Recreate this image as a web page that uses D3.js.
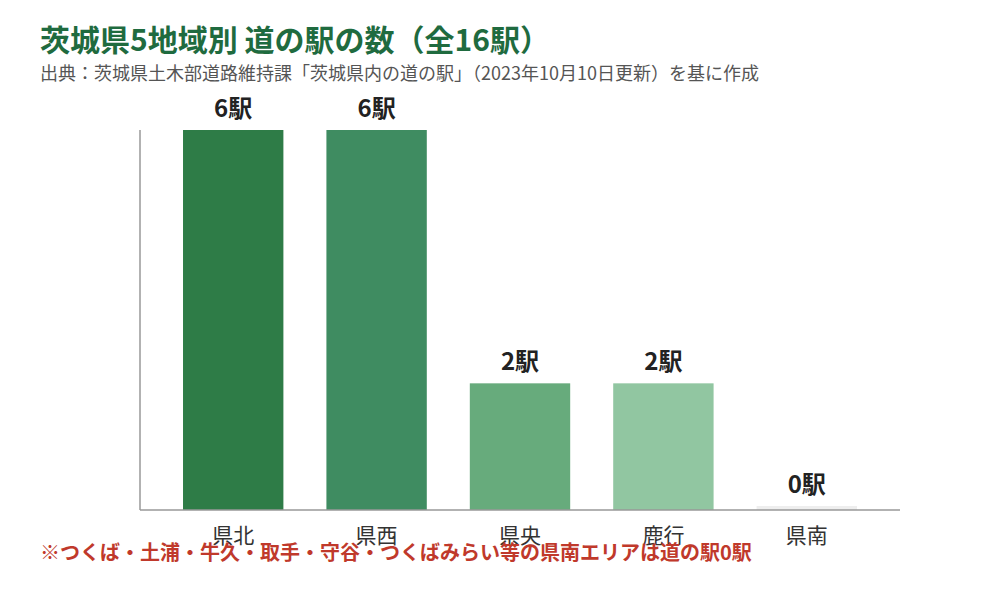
<!DOCTYPE html>
<html lang="ja">
<head>
    <meta charset="UTF-8">
    <title>茨城県5地域別 道の駅の数</title>
    <script src="https://cdnjs.cloudflare.com/ajax/libs/d3/7.8.5/d3.min.js"></script>
    <style>
        body { margin: 0; background: #fff; }
        svg { font-family: "Noto Sans CJK JP", "Noto Sans", sans-serif; }
    </style>
</head>
<body>
<svg width="1000" height="600"></svg>

<script>
    // data
    const regions = ["県北", "県西", "県央", "鹿行", "県南"];
    const stations = [6, 6, 2, 2, 0];
    const barColors = ["#2e7c47", "#3f8c61", "#67ab7c", "#91c6a1", "#eeeeee"];

    const svg = d3.select("svg");
    const plotLeft = 140, plotRight = 900, plotTop = 130, plotBottom = 510;

    const x = d3.scaleBand()
        .domain(regions)
        .range([plotLeft, plotRight])
        .paddingInner(0.3)
        .paddingOuter(0.3);

    const y = d3.scaleLinear()
        .domain([0, 6])
        .range([plotBottom, plotTop]);

    // title + source
    svg.append("text")
        .attr("x", 40).attr("y", 51)
        .attr("font-size", 30).attr("font-weight", "bold")
        .attr("fill", "#1f6b3f")
        .text("茨城県5地域別 道の駅の数（全16駅）");

    svg.append("text")
        .attr("x", 40).attr("y", 80)
        .attr("font-size", 18)
        .attr("fill", "#555")
        .text("出典：茨城県土木部道路維持課「茨城県内の道の駅」（2023年10月10日更新）を基に作成");

    // bars (0 gets a thin stub so it stays visible)
    svg.append("g")
        .selectAll("rect")
        .data(stations)
        .join("rect")
        .attr("x", (d, i) => x(regions[i]))
        .attr("width", x.bandwidth())
        .attr("y", d => d > 0 ? y(d) : plotBottom - 4)
        .attr("height", d => d > 0 ? plotBottom - y(d) : 4)
        .attr("fill", (d, i) => barColors[i]);

    // value labels
    svg.append("g")
        .selectAll("text")
        .data(stations)
        .join("text")
        .attr("x", (d, i) => x(regions[i]) + x.bandwidth() / 2)
        .attr("y", d => (d > 0 ? y(d) : plotBottom - 4) - 13)
        .attr("text-anchor", "middle")
        .attr("font-size", 24).attr("font-weight", "bold")
        .attr("fill", "#222")
        .text(d => d + "駅");

    // axes
    const xAxis = svg.append("g")
        .attr("transform", `translate(0,${plotBottom})`)
        .call(d3.axisBottom(x).tickSize(0).tickPadding(18));
    xAxis.select(".domain").attr("stroke", "#999").attr("stroke-width", 1.5)
        .attr("d", `M${plotLeft},0H${plotRight}`);
    xAxis.selectAll("text")
        .attr("font-size", 21).attr("fill", "#333")
        .attr("font-family", "Noto Sans CJK JP");

    svg.append("line")
        .attr("x1", plotLeft).attr("x2", plotLeft)
        .attr("y1", plotTop).attr("y2", plotBottom)
        .attr("stroke", "#999").attr("stroke-width", 1.5);

    // note
    svg.append("text")
        .attr("x", 40).attr("y", 560)
        .attr("font-size", 20).attr("font-weight", "bold")
        .attr("fill", "#c0392b")
        .text("※つくば・土浦・牛久・取手・守谷・つくばみらい等の県南エリアは道の駅0駅");
</script>
</body>
</html>
